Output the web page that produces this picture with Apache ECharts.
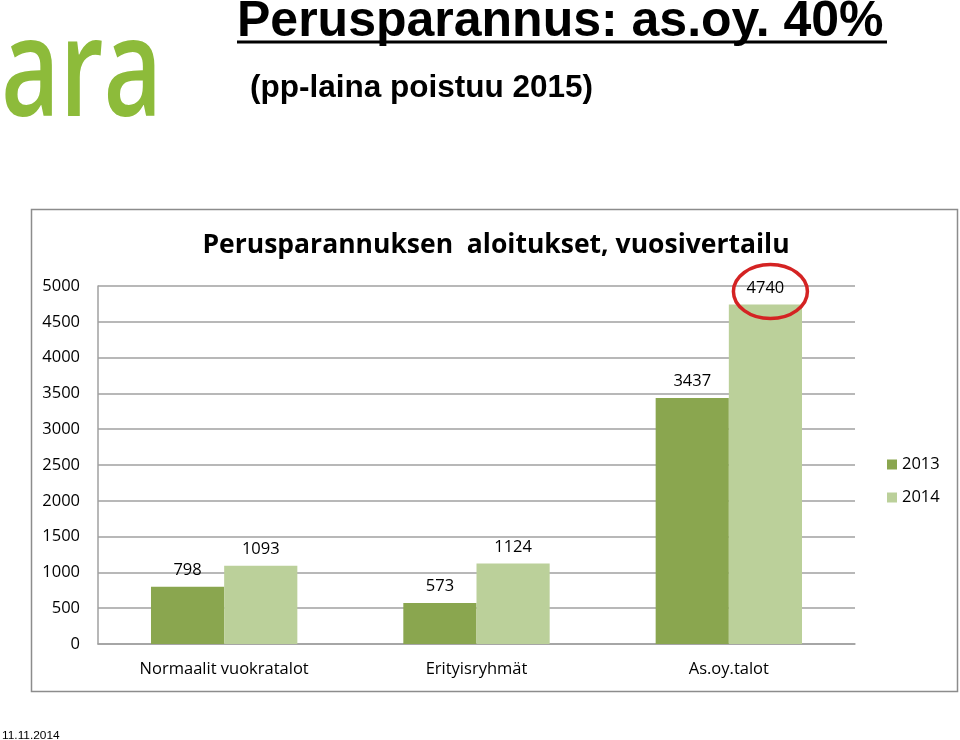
<!DOCTYPE html>
<html>
<head>
<meta charset="utf-8">
<script src="https://cdn.jsdelivr.net/npm/echarts@6/dist/echarts.min.js"></script>
<style>
html,body{margin:0;padding:0;background:#fff;}
#main{width:960px;height:740px;}
</style>
</head>
<body>
<div id="main"></div>
<script>
const categories = ['Normaalit vuokratalot', 'Erityisryhmät', 'As.oy.talot'];
const seriesNames = ['2013', '2014'];
const values2013 = [798, 573, 3437];
const values2014 = [1093, 1124, 4740];
const yTicks = { min: 0, max: 5000, interval: 500 };

const pageTitle = 'Perusparannus: as.oy. 40%';
const pageSubtitle = '(pp-laina poistuu 2015)';
const chartTitle = 'Perusparannuksen  aloitukset, vuosivertailu';
const dateText = '11.11.2014';
const logoText = 'ara';

const colors = ['#8aa64f', '#bbd09a'];
const font = 'Open Sans';

const chart = echarts.init(document.getElementById('main'), null, {renderer: 'canvas'});

const option = {
  animation: false,
  backgroundColor: '#ffffff',
  color: colors,
  title: {
    text: chartTitle,
    left: 491, top: 227,
    textAlign: 'center',
    textStyle: {fontFamily: font, fontWeight: 'bold', fontSize: 26.5, color: '#000'}
  },
  legend: {
    orient: 'vertical',
    left: 882, top: 451,
    itemWidth: 10, itemHeight: 10,
    itemGap: 16,
    icon: 'rect',
    textStyle: {fontFamily: font, fontSize: 16.5, color: '#000'},
    data: seriesNames
  },
  grid: {left: 98, right: 105, top: 286, bottom: 96, containLabel: false},
  xAxis: {
    type: 'category',
    data: categories,
    axisLine: {lineStyle: {color: '#a0a0a0', width: 1.5}},
    axisTick: {show: false},
    axisLabel: {margin: 17, fontFamily: font, fontSize: 16.5, color: '#000'}
  },
  yAxis: {
    type: 'value',
    min: yTicks.min, max: yTicks.max, interval: yTicks.interval,
    axisLine: {show: true, lineStyle: {color: '#a0a0a0', width: 1.5}},
    axisTick: {show: false},
    splitLine: {lineStyle: {color: '#a0a0a0', width: 1.5}},
    axisLabel: {margin: 18, fontFamily: font, fontSize: 16.5, color: '#000', formatter: v => String(v)}
  },
  series: [
    {
      name: seriesNames[0], type: 'bar', data: values2013,
      barGap: '0%', barCategoryGap: '42%',
      label: {show: true, position: 'top', distance: 8, fontFamily: font, fontSize: 16.5, color: '#000'}
    },
    {
      name: seriesNames[1], type: 'bar', data: values2014,
      barGap: '0%', barCategoryGap: '42%',
      label: {show: true, position: 'top', distance: 8, fontFamily: font, fontSize: 16.5, color: '#000'}
    }
  ]
};
chart.setOption(option);

// Annotation ellipse around the largest 2014 value, positioned from the bar's layout
const lastIdx = values2014.length - 1;
const layout = chart.getModel().getSeriesByIndex(1).getData().getItemLayout(lastIdx);
const cx = layout.x + layout.width / 2;
const topY = Math.min(layout.y, layout.y + layout.height);

chart.setOption({
  graphic: [
    {type: 'rect', shape: {x: 31.5, y: 209.5, width: 926, height: 482}, style: {fill: null, stroke: '#8c8c8c', lineWidth: 1.5}, z: -1},
    {type: 'text', x: 1, y: 8, scaleX: 0.74, scaleY: 1, style: {text: logoText, x: 0, y: 0, verticalAlign: 'top', font: '600 137px "Open Sans"', fill: '#8dbb3a'}},
    {type: 'text', left: 237, top: -3, style: {text: pageTitle, font: 'bold 50px "Liberation Sans"', fill: '#000'}},
    {type: 'line', shape: {x1: 237, y1: 42, x2: 887, y2: 42}, style: {stroke: '#000', lineWidth: 3}},
    {type: 'text', left: 250, top: 72, style: {text: pageSubtitle, font: 'bold 31.5px "Liberation Sans"', fill: '#000'}},
    {type: 'text', x: 2, y: 730, scaleX: 1.08, scaleY: 1, style: {text: dateText, x: 0, y: 0, verticalAlign: 'top', font: 'normal 11px "Liberation Sans"', fill: '#000'}},
    {type: 'ellipse', shape: {cx: cx + 5, cy: topY - 13, rx: 37, ry: 27}, style: {fill: null, stroke: '#d42323', lineWidth: 3.5}, z: 100}
  ]
});
</script>
</body>
</html>
